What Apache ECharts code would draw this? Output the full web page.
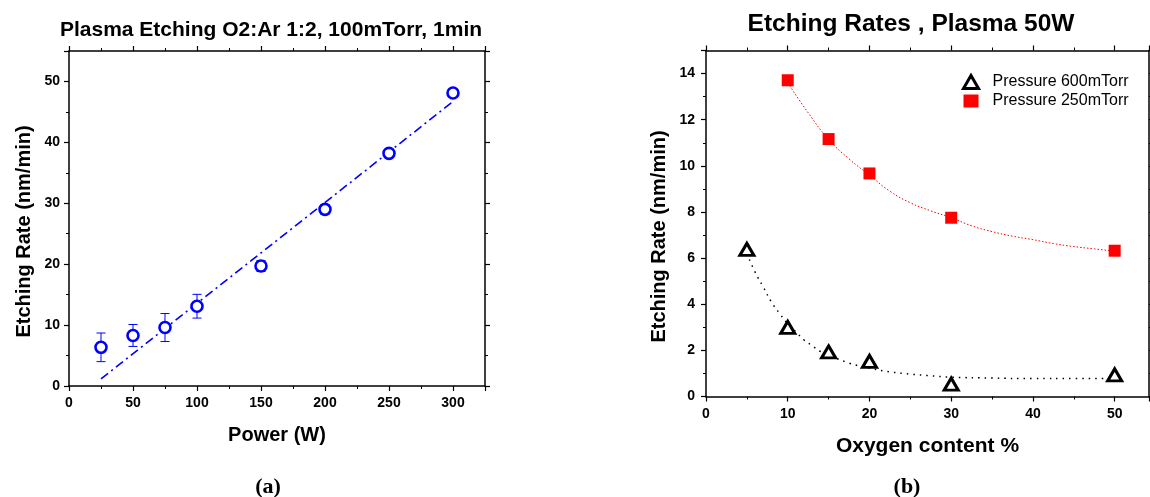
<!DOCTYPE html>
<html>
<head>
<meta charset="utf-8">
<script src="https://cdn.jsdelivr.net/npm/echarts@6/dist/echarts.min.js"></script>
<style>html,body{margin:0;padding:0;background:#fff;}#c{width:1150px;height:497px;}</style>
</head>
<body>
<div id="c"></div>
<script>
// ---- Chart (a) data ----
const powerW = [25, 50, 75, 100, 150, 200, 250, 300];
const rateA = [6.35, 8.3, 9.6, 13.1, 19.7, 29.0, 38.2, 48.1];
const errA = [2.35, 1.8, 2.3, 1.95, 0.9, 0.8, 0.4, 0.4];
const fitAX = [25, 300];
const fitAY = [1.15, 46.7];

// ---- Chart (b) data ----
const oxy600 = [5, 10, 15, 20, 30, 50];
const rate600 = [6.38, 3.0, 1.93, 1.52, 0.54, 0.94];
const oxy250 = [10, 15, 20, 30, 50];
const rate250 = [13.71, 11.16, 9.67, 7.75, 6.32];
const fit600X = [5, 6, 7, 8, 9, 10, 11, 12, 13, 14, 15, 17.5, 20, 22.5, 25, 27.5, 30, 35, 40, 45, 50];
const fit600Y = [6.2, 5.4, 4.75, 4.1, 3.6, 3.15, 2.8, 2.45, 2.2, 1.95, 1.8, 1.45, 1.23, 1.07, 0.97, 0.9, 0.84, 0.8, 0.78, 0.78, 0.78];
const fit250X = [10, 12.5, 15, 17.5, 20, 22.5, 25, 27.5, 30, 32.5, 35, 37.5, 40, 42.5, 45, 47.5, 50];
const fit250Y = [13.6, 12.3, 11.15, 10.3, 9.6, 8.9, 8.4, 8.05, 7.75, 7.4, 7.15, 6.95, 6.8, 6.63, 6.5, 6.4, 6.3];
const legendNames = ['Pressure 600mTorr', 'Pressure 250mTorr'];

const FONT = '"Liberation Sans", Arial, sans-serif';
const SERIF = '"Liberation Serif", "DejaVu Serif", serif';
const zip = (a, b) => a.map((v, i) => [v, b[i]]);

function frameAxis(gridIndex, pos, min, max, interval) {
  return {
    type: 'value', gridIndex, position: pos, min, max, interval,
    axisLine: { show: true, onZero: false, lineStyle: { color: '#000', width: 1.5 } },
    axisTick: { show: true, inside: false, length: 5, lineStyle: { color: '#000', width: 1.2 } },
    minorTick: { show: true, splitNumber: 2, length: 3, lineStyle: { color: '#000', width: 1 } },
    axisLabel: { show: false },
    splitLine: { show: false }
  };
}
function mainAxis(gridIndex, pos, min, max, interval, name, gap, margin, nameSize, padding) {
  const a = frameAxis(gridIndex, pos, min, max, interval);
  a.axisLabel = { show: true, margin, showMaxLabel: false, color: '#000', fontFamily: FONT, fontWeight: 'bold', fontSize: 14 };
  a.name = name;
  a.nameLocation = 'middle';
  a.nameGap = gap;
  a.nameTextStyle = { color: '#000', fontFamily: FONT, fontWeight: 'bold', fontSize: nameSize, padding: padding || 0 };
  return a;
}

const chart = echarts.init(document.getElementById('c'), null, { renderer: 'canvas' });
const option = {
  backgroundColor: '#fff',
  animation: false,
  title: [
    { text: 'Plasma Etching O2:Ar 1:2, 100mTorr, 1min', left: 266, top: 15, textAlign: 'center',
      textStyle: { fontFamily: FONT, fontWeight: 'bold', fontSize: 21, color: '#000' } },
    { text: 'Etching Rates , Plasma 50W', left: 906, top: 7, textAlign: 'center',
      textStyle: { fontFamily: FONT, fontWeight: 'bold', fontSize: 24.5, color: '#000' } },
    { text: '({a|a})', left: 263, top: 471, textAlign: 'center',
      textStyle: { fontFamily: SERIF, fontSize: 22, color: '#000', rich: { a: { fontFamily: SERIF, fontSize: 22, fontWeight: 'bold', color: '#000' } } } },
    { text: '({b|b})', left: 902, top: 471, textAlign: 'center',
      textStyle: { fontFamily: SERIF, fontSize: 22, color: '#000', rich: { b: { fontFamily: SERIF, fontSize: 22, fontWeight: 'bold', color: '#000' } } } }
  ],
  legend: {
    orient: 'vertical', left: 962, top: 74, padding: 0, itemGap: 3, itemWidth: 15, itemHeight: 13,
    textStyle: { fontFamily: FONT, fontSize: 16, color: '#000', padding: [0, 0, 0, 9] },
    data: [
      { name: legendNames[0], icon: 'triangle', itemStyle: { color: '#fff', borderColor: '#000', borderWidth: 3 } },
      { name: legendNames[1], icon: 'rect', itemStyle: { color: '#ff0000' } }
    ]
  },
  grid: [
    { left: 69, top: 51, width: 416, height: 335, outerBoundsMode: 'none', containLabel: false },
    { left: 706, top: 50.5, width: 443, height: 346, outerBoundsMode: 'none', containLabel: false }
  ],
  xAxis: [
    mainAxis(0, 'bottom', 0, 325, 50, 'Power (W)', 39, 10, 20),
    frameAxis(0, 'top', 0, 325, 50),
    mainAxis(1, 'bottom', 0, 54.2, 10, 'Oxygen content %', 39, 11, 21),
    frameAxis(1, 'top', 0, 54.2, 10)
  ],
  yAxis: [
    mainAxis(0, 'left', 0, 55, 10, 'Etching Rate (nm/min)', 35, 9, 20, [0, 26, 0, 0]),
    frameAxis(0, 'right', 0, 55, 10),
    mainAxis(1, 'left', 0, 15, 2, 'Etching Rate (nm/min)', 37, 11, 20, [0, 26, 0, 0]),
    frameAxis(1, 'right', 0, 15, 2)
  ],
  series: [
    {
      type: 'line', name: 'fitA', xAxisIndex: 0, yAxisIndex: 0, data: zip(fitAX, fitAY),
      showSymbol: false, symbol: 'none', lineStyle: { color: '#0000ff', width: 1.6, type: [9, 4, 2, 4] }, z: 2
    },
    {
      type: 'custom', name: 'errA', xAxisIndex: 0, yAxisIndex: 0,
      data: powerW.map((x, i) => [x, rateA[i] - errA[i], rateA[i] + errA[i]]),
      renderItem: function (params, api) {
        const x = api.value(0);
        const p1 = api.coord([x, api.value(1)]);
        const p2 = api.coord([x, api.value(2)]);
        const w = 4.5;
        const st = { stroke: '#0000ff', lineWidth: 1 };
        return {
          type: 'group', children: [
            { type: 'line', shape: { x1: p1[0], y1: p1[1], x2: p2[0], y2: p2[1] }, style: st },
            { type: 'line', shape: { x1: p1[0] - w, y1: p1[1], x2: p1[0] + w, y2: p1[1] }, style: st },
            { type: 'line', shape: { x1: p2[0] - w, y1: p2[1], x2: p2[0] + w, y2: p2[1] }, style: st }
          ]
        };
      }, z: 3
    },
    {
      type: 'scatter', name: 'rateA', xAxisIndex: 0, yAxisIndex: 0, data: zip(powerW, rateA),
      symbol: 'circle', symbolSize: 11, itemStyle: { color: '#fff', borderColor: '#0000ff', borderWidth: 2.6, opacity: 1 }, z: 4
    },
    {
      type: 'line', name: 'fit600', xAxisIndex: 2, yAxisIndex: 2, data: zip(fit600X, fit600Y), smooth: true,
      showSymbol: false, symbol: 'none', lineStyle: { color: '#000', width: 1.5, type: [1.5, 5] }, z: 2
    },
    {
      type: 'line', name: 'fit250', xAxisIndex: 2, yAxisIndex: 2, data: zip(fit250X, fit250Y), smooth: true,
      showSymbol: false, symbol: 'none', lineStyle: { color: '#ff0000', width: 1, type: [1.5, 2] }, z: 2
    },
    {
      type: 'scatter', name: legendNames[0], xAxisIndex: 2, yAxisIndex: 2, data: zip(oxy600, rate600),
      symbol: 'triangle', symbolSize: [14, 12], itemStyle: { color: '#fff', borderColor: '#000', borderWidth: 3, opacity: 1 }, z: 4
    },
    {
      type: 'scatter', name: legendNames[1], xAxisIndex: 2, yAxisIndex: 2, data: zip(oxy250, rate250),
      symbol: 'rect', symbolSize: 12, itemStyle: { color: '#ff0000', opacity: 1 }, z: 4
    }
  ]
};
chart.setOption(option);
</script>
</body>
</html>
